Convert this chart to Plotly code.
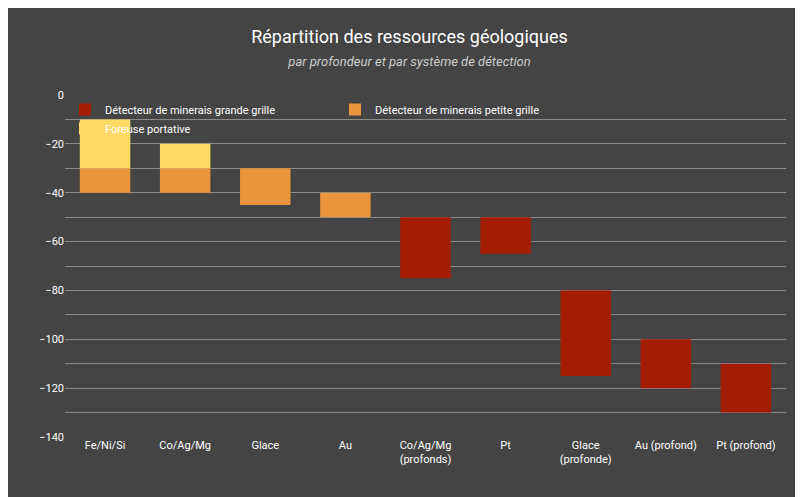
import plotly.graph_objects as go

categories = ["Fe/Ni/Si", "Co/Ag/Mg", "Glace", "Au", "Co/Ag/Mg<br>(profonds)", "Pt",
              "Glace<br>(profonde)", "Au (profond)", "Pt (profond)"]
grande_top = [None, None, None, None, -50, -50, -80, -100, -110]
grande_bot = [None, None, None, None, -75, -65, -115, -120, -130]
petite_top = [-30, -30, -30, -40, None, None, None, None, None]
petite_bot = [-40, -40, -45, -50, None, None, None, None, None]
foreuse_top = [-10, -20, None, None, None, None, None, None, None]
foreuse_bot = [-30, -30, None, None, None, None, None, None, None]

def rng(top, bot):
    return ([None if t is None else b - t for t, b in zip(top, bot)], top)

fig = go.Figure()
for name, top, bot, col in [
    ("Détecteur de minerais grande grille", grande_top, grande_bot, "#a51d00"),
    ("Détecteur de minerais petite grille", petite_top, petite_bot, "#e8953b"),
    ("Foreuse portative", foreuse_top, foreuse_bot, "#ffd966"),
]:
    y, base = rng(top, bot)
    fig.add_trace(go.Bar(x=categories, y=y, base=base, name=name, marker_color=col,
                         marker_line_width=0, width=0.63))

fig.update_layout(
    width=803, height=497, barmode="overlay",
    paper_bgcolor="#444444", plot_bgcolor="#444444",
    font=dict(family="Roboto, Arial", color="#ffffff", size=11),
    title=dict(text="Répartition des ressources géologiques<br><span style='font-size:13px;color:#cccccc'><i>par profondeur et par système de détection</i></span>",
               x=0.5, y=0.93, xanchor="center", font=dict(size=18)),
    margin=dict(l=57, r=25, t=87, b=68),
    legend=dict(orientation="h", x=0.0, y=1.0, xanchor="left", yanchor="top",
                bgcolor="rgba(0,0,0,0)", font=dict(size=11), entrywidth=225,
                itemwidth=30),
    showlegend=True,
)
fig.update_yaxes(range=[-140, 0], tickvals=list(range(-140, 1, 20)), showgrid=True,
                 gridcolor="#8a8a8a", gridwidth=1, zeroline=False,
                 minor=dict(dtick=10, showgrid=True, gridcolor="#8a8a8a"), ticks="",
                 tickfont=dict(size=11))
fig.update_xaxes(showgrid=False, tickfont=dict(size=11))
fig.write_html("out.html")
